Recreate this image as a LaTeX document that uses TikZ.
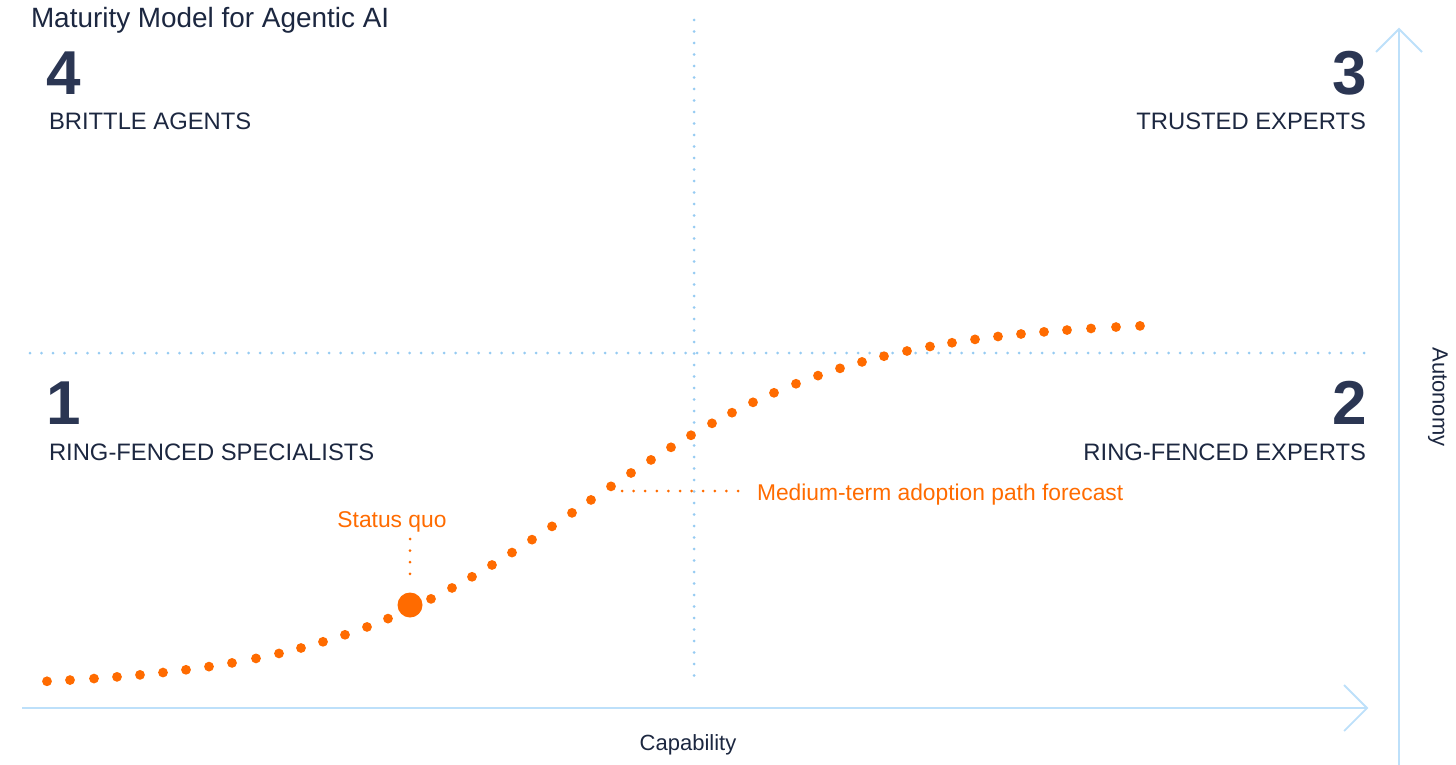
\documentclass[tikz,border=0pt]{standalone}
\usepackage{fontspec}
\setmainfont{Liberation Sans}
\usetikzlibrary{calc}
\definecolor{navy}{HTML}{2B3653}
\definecolor{ink}{HTML}{1C2740}
\definecolor{orng}{HTML}{FF6B00}
\definecolor{axisblue}{HTML}{BDE0FA}
\definecolor{gridblue}{HTML}{96CBF2}
\begin{document}
\begin{tikzpicture}[x=1pt,y=-1pt,
  every node/.style={inner sep=0pt, outer sep=0pt},
  num/.style={font=\fontsize{62}{62}\selectfont\bfseries, text=navy},
  quad/.style={font=\fontsize{23.8}{26}\selectfont, text=ink},
  axislbl/.style={font=\fontsize{22}{24}\selectfont, text=ink},
  annot/.style={font=\fontsize{22.8}{25}\selectfont, text=orng},
  gridline/.style={draw=gridblue, line width=3pt, line cap=round, dash pattern=on 0pt off 11.5pt},
  axisline/.style={draw=axisblue, line width=1.8pt},
  lead/.style={draw=orng, line width=3pt, line cap=round, dash pattern=on 0pt off 11.6pt},
]
\useasboundingbox (0,0) rectangle (1456,765);

% title
\node[anchor=base west, font=\fontsize{27.9}{30}\selectfont, text=ink] (title) at (31,28) {Maturity Model for Agentic AI};

% quadrant grid
\coordinate (vtop) at (694,20);
\coordinate (vbot) at (694,682);
\coordinate (hleft) at (30,353);
\coordinate (hright) at (1368,353);
\draw[gridline] (vtop) -- (vbot);
\draw[gridline] (hleft) -- (hright);

% axes
\coordinate (xstart) at (22,708);
\coordinate (xend) at (1367,708);
\coordinate (ystart) at (1399,768);
\coordinate (yend) at (1399,29);
\draw[axisline] (xstart) -- (xend);
\draw[axisline] ($(xend)+(-23,-23)$) -- (xend) -- ($(xend)+(-23,23)$);
\draw[axisline] (ystart) -- (yend);
\draw[axisline] ($(yend)+(-23,23)$) -- (yend) -- ($(yend)+(23,23)$);

\node[axislbl, anchor=base] (cap) at (688,750) {Capability};
\node[axislbl, rotate=-90] (aut) at (1438,397) {Autonomy};

% quadrant labels
\node[num, anchor=base west] (n4) at (46,95) {4};
\node[quad, anchor=base west] (q4) at (49,130) {BRITTLE AGENTS};
\node[num, anchor=base east] (n3) at (1367,95) {3};
\node[quad, anchor=base east] (q3) at (1366,130) {TRUSTED EXPERTS};
\node[num, anchor=base west] (n1) at (46,424) {1};
\node[quad, anchor=base west] (q1) at (49,460) {RING-FENCED SPECIALISTS};
\node[num, anchor=base east] (n2) at (1367,424) {2};
\node[quad, anchor=base east] (q2) at (1366,460) {RING-FENCED EXPERTS};

% adoption path dots
\foreach \x in {47,70,94,117,140,163,186,209,232,256,279,301,323,345,367,388,431,452,472,492,512,532,552,572,591,611,631,651,671,691,712,732,753,774,796,818,840,862,884,907,930,952,975,998,1021,1044,1067,1091,1116,1140}{
  \pgfmathsetmacro\yy{688-368/(1+exp(-(\x-585)/135))}
  \fill[orng] (\x,\yy) circle[radius=4.9pt];
}

% status quo
\node[circle, fill=orng, minimum size=25pt] (sqdot) at (410,605) {};
\node[annot, anchor=base] (sq) at (392,527) {Status quo};
\coordinate (sqa) at (410,539);
\coordinate (sqb) at (410,585);
\draw[lead] (sqa) -- (sqb);

% medium-term forecast
\node[annot, anchor=base west] (mt) at (757,500) {Medium-term adoption path forecast};
\coordinate (mta) at (622,491);
\coordinate (mtb) at (743,491);
\draw[lead] (mta) -- (mtb);
\end{tikzpicture}
\end{document}
